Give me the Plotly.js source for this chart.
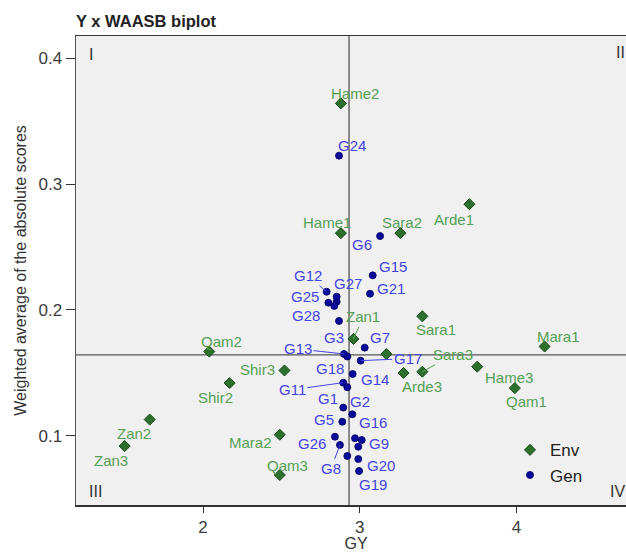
<!DOCTYPE html>
<html>
<head>
<meta charset="utf-8">
<script src="https://cdn.plot.ly/plotly-3.0.1.min.js"></script>
<style>
  html, body { margin: 0; padding: 0; overflow: hidden; background: #ffffff; }
  #chart { width: 636px; height: 552px; }
</style>
</head>
<body>
<div id="chart"></div>
<script>
// Environments: grain yield (GY) and WAASB stability score
const envNames = ["Arde1", "Arde2", "Arde3", "Hame1", "Hame2", "Hame3", "Mara1", "Mara2", "Qam1", "Qam2",
                  "Qam3", "Sara1", "Sara2", "Sara3", "Shir2", "Shir3", "Zan1", "Zan2", "Zan3"];
const envGY    = [3.70, 3.17, 3.28, 2.88, 2.88, 3.75, 4.18, 2.49, 3.99, 2.04,
                  2.49, 3.40, 3.26, 3.40, 2.17, 2.52, 2.96, 1.66, 1.50];
const envWAASB = [0.284, 0.165, 0.150, 0.261, 0.364, 0.155, 0.171, 0.101, 0.138, 0.167,
                  0.069, 0.195, 0.261, 0.151, 0.142, 0.152, 0.177, 0.113, 0.092];

// Genotypes G1..G28
const genNames = ["G1", "G2", "G3", "G4", "G5", "G6", "G7", "G8", "G9", "G10",
                  "G11", "G12", "G13", "G14", "G15", "G16", "G17", "G18", "G19", "G20",
                  "G21", "G22", "G23", "G24", "G25", "G26", "G27", "G28"];
const genGY    = [2.895, 2.953, 2.921, 2.853, 2.889, 3.130, 3.032, 2.874, 3.013, 2.838,
                  2.895, 2.789, 2.900, 2.955, 3.083, 2.970, 3.006, 2.921, 2.996, 2.991,
                  3.066, 2.991, 2.921, 2.868, 2.800, 2.842, 2.853, 2.868];
const genWAASB = [0.1225, 0.1172, 0.1631, 0.2066, 0.1113, 0.2587, 0.1701, 0.0929, 0.0968, 0.2032,
                  0.1423, 0.2145, 0.1651, 0.1492, 0.2275, 0.0982, 0.1598, 0.1387, 0.0722, 0.0817,
                  0.2129, 0.0915, 0.0841, 0.3225, 0.2058, 0.0994, 0.2106, 0.1913];

// Grand means that split the plane into quadrants
const meanGY = 2.932;
const meanWAASB = 0.1643;

const quadrantLabels = ["I", "II", "III", "IV"];

// Label placement (pixel offsets from each point; third item = leader line)
const labelOffset = {
  "Hame2": [14, -10], "Hame1": [-14, -11], "Sara2": [2, -11], "Arde1": [-15, 15],
  "Sara1": [14, 13], "Mara1": [14, -10], "Qam2": [12, -10], "Zan1": [10, -22, true],
  "Sara3": [31, -17, true], "Arde3": [18, 14], "Hame3": [32, 11], "Qam1": [12, 13],
  "Shir3": [-27, -1], "Shir2": [-14, 14], "Zan2": [-16, 14], "Zan3": [-14, 14],
  "Mara2": [-29, 8], "Qam3": [8, -10],
  "G24": [13, -10], "G6": [-18, 8], "G15": [20, -9], "G21": [21, -5], "G12": [-19, -16, true],
  "G27": [11, -13], "G25": [-23, -6], "G28": [-33, -5], "G3": [-13, -19], "G7": [15, -10],
  "G13": [-46, -5, true], "G17": [47, -2, true], "G18": [-17, -19], "G14": [22, 6],
  "G11": [-51, 7, true], "G1": [-15, -9], "G2": [8, -13], "G5": [-18, -2], "G16": [18, -16],
  "G26": [-23, 7], "G9": [17, 3], "G8": [-9, 24, true], "G20": [23, 6], "G19": [14, 14]
};

const FONT = "Liberation Sans, Arial, Helvetica, sans-serif";
const envLabelColor = "#56a056";
const genLabelColor = "#4444e2";

function labelAnnotations(names, xs, ys, color) {
  const out = [];
  names.forEach((n, i) => {
    const off = labelOffset[n];
    if (!off) return;
    const base = {
      x: xs[i], y: ys[i], xref: "x", yref: "y", text: n,
      font: { family: FONT, size: 15, color: color }
    };
    if (off[2]) {
      Object.assign(base, {
        showarrow: true, ax: off[0], ay: off[1], axref: "pixel", ayref: "pixel",
        arrowhead: 0, arrowwidth: 1, arrowcolor: color, standoff: 0, startstandoff: 0
      });
    } else {
      Object.assign(base, { showarrow: false, xshift: off[0], yshift: -off[1] });
    }
    out.push(base);
  });
  return out;
}

const traces = [
  {
    type: "scatter", mode: "markers", name: "Env",
    x: envGY, y: envWAASB, text: envNames,
    marker: { symbol: "diamond", size: 8.5, color: "#2d6f2d", line: { color: "#1a4a1a", width: 1 } },
    hoverinfo: "text+x+y"
  },
  {
    type: "scatter", mode: "markers", name: "Gen",
    x: genGY, y: genWAASB, text: genNames,
    marker: { symbol: "circle", size: 7, color: "#0a0a9c", line: { color: "#00005c", width: 0.8 } },
    hoverinfo: "text+x+y"
  }
];

// Quadrant numerals in the corners of the panel
const quadPos = [[0.027, 0.960], [0.973, 0.964], [0.034, 0.029], [0.967, 0.028]];
const quadAnn = quadrantLabels.map((t, i) => ({
  x: quadPos[i][0], y: quadPos[i][1], xref: "paper", yref: "paper", text: t,
  showarrow: false, xanchor: "center", yanchor: "middle",
  font: { family: FONT, size: 16, color: "#333333" }
}));

const layout = {
  width: 636, height: 552,
  margin: { l: 76, r: 0, t: 36, b: 47 },
  paper_bgcolor: "#ffffff",
  plot_bgcolor: "#f0f0f0",
  font: { family: FONT, color: "#333333" },
  title: {
    text: "<b>Y x WAASB biplot</b>",
    font: { family: FONT, size: 16.5, color: "#222222" },
    x: 0, xref: "paper", xanchor: "left",
    y: 0.961, yref: "container", yanchor: "middle"
  },
  xaxis: {
    range: [1.1895, 4.7633], tick0: 0, dtick: 1,
    ticks: "outside", ticklen: 6, tickwidth: 1, tickcolor: "#333333",
    tickfont: { family: FONT, size: 17, color: "#3c3c3c" },
    showline: true, linecolor: "#333333", linewidth: 1.5, mirror: true,
    showgrid: false, zeroline: false,
    title: { text: "GY", font: { family: FONT, size: 16, color: "#333333" }, standoff: 4 }
  },
  yaxis: {
    range: [0.0452, 0.4175], tick0: 0, dtick: 0.1,
    ticks: "outside", ticklen: 9, tickwidth: 1, tickcolor: "#333333",
    tickfont: { family: FONT, size: 17, color: "#3c3c3c" },
    showline: true, linecolor: "#555555", linewidth: 1.5, mirror: true,
    showgrid: false, zeroline: false,
    title: { text: "Weighted average of the absolute scores", font: { family: FONT, size: 16, color: "#333333" }, standoff: 8 }
  },
  shapes: [
    { type: "line", xref: "x", yref: "paper", x0: meanGY, x1: meanGY, y0: 0, y1: 1,
      line: { color: "#555555", width: 1.3 }, layer: "below" },
    { type: "line", xref: "paper", yref: "y", x0: 0, x1: 1, y0: meanWAASB, y1: meanWAASB,
      line: { color: "#555555", width: 1.3 }, layer: "below" }
  ],
  annotations: labelAnnotations(envNames, envGY, envWAASB, envLabelColor)
    .concat(labelAnnotations(genNames, genGY, genWAASB, genLabelColor))
    .concat(quadAnn),
  showlegend: true,
  legend: {
    x: 0.775, xanchor: "left", y: 0.155, yanchor: "top",
    bgcolor: "rgba(0,0,0,0)", borderwidth: 0,
    font: { family: FONT, size: 17, color: "#222222" },
    tracegroupgap: 0
  }
};

Plotly.newPlot("chart", traces, layout, { displayModeBar: false, staticPlot: true });
</script>
</body>
</html>
